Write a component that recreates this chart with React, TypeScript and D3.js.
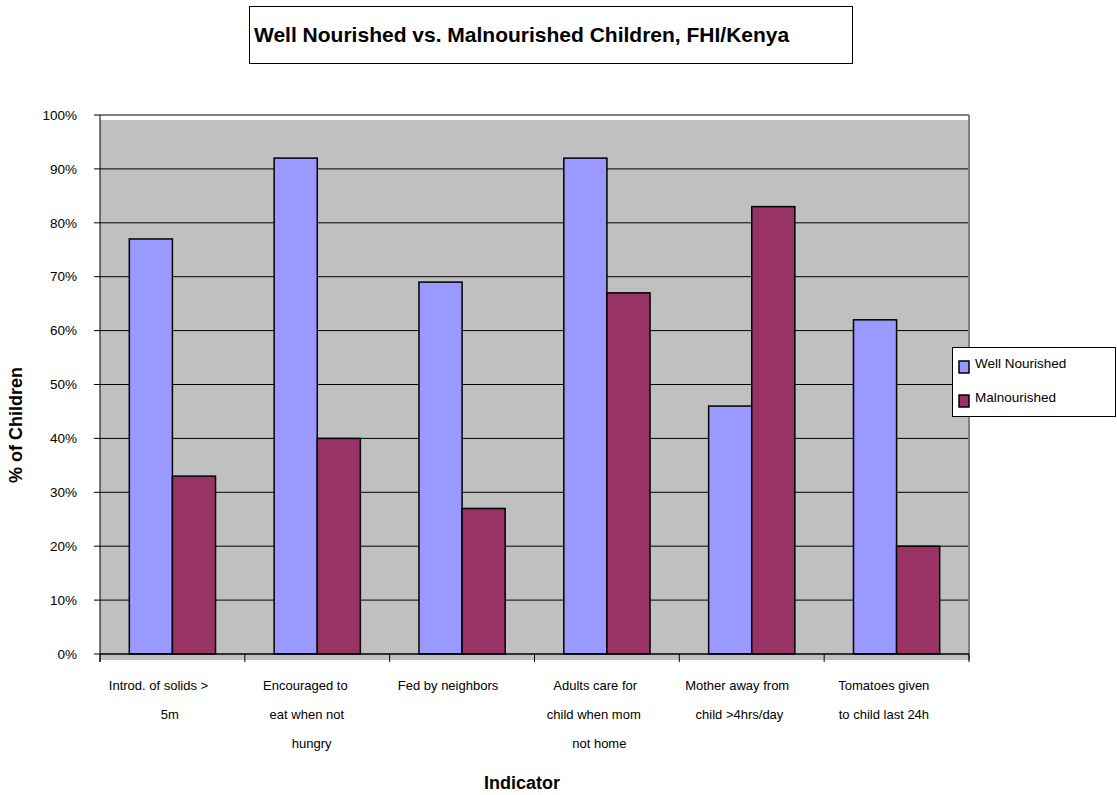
import React, { useEffect, useRef } from 'react';
import * as d3 from 'd3';

const categories = [
  ['Introd. of solids >', '5m'],
  ['Encouraged to', 'eat when not', 'hungry'],
  ['Fed by neighbors'],
  ['Adults care for', 'child when mom', 'not home'],
  ['Mother away from', 'child >4hrs/day'],
  ['Tomatoes given', 'to child last 24h'],
];
const seriesNames = ['Well Nourished', 'Malnourished'];
const wellNourished = [77, 92, 69, 92, 46, 62];
const malnourished = [33, 40, 27, 67, 83, 20];
const yTicks = [0, 10, 20, 30, 40, 50, 60, 70, 80, 90, 100];

const colors = ['#9999FF', '#993366'];
const FONT = 'Liberation Sans, Arial, sans-serif';

const App: React.FC = () => {
  const svgRef = useRef<SVGSVGElement>(null);

  useEffect(() => {
    if (!svgRef.current) return;
    const svg = d3.select(svgRef.current);
    svg.selectAll('*').remove();

    const left = 100, right = 969, top = 115, bottom = 654;

    const x = d3.scaleBand<number>()
      .domain(categories.map((_, i) => i))
      .range([left, right]);
    const inner = d3.scaleBand<number>()
      .domain([0, 1])
      .range([0, x.bandwidth()])
      .paddingOuter(0.68)
      .paddingInner(0);
    const y = d3.scaleLinear().domain([0, 100]).range([bottom, top]);

    // plot area (slightly offset floor, like the original)
    svg.append('rect')
      .attr('x', left).attr('y', top + 5)
      .attr('width', right - left).attr('height', bottom + 6 - top - 5)
      .attr('fill', '#C0C0C0');

    // gridlines
    svg.selectAll('.grid')
      .data(yTicks.filter(t => t > 0))
      .enter().append('line')
      .attr('x1', left).attr('x2', right)
      .attr('y1', d => y(d)).attr('y2', d => y(d))
      .attr('stroke', d => (d === 100 ? '#808080' : '#000'))
      .attr('stroke-width', d => (d === 100 ? 2 : 1));

    // right border
    svg.append('line')
      .attr('x1', right).attr('x2', right)
      .attr('y1', top).attr('y2', bottom + 6)
      .attr('stroke', '#808080').attr('stroke-width', 2);

    // bars
    const data = [wellNourished, malnourished];
    data.forEach((vals, s) => {
      svg.selectAll(`.bar${s}`)
        .data(vals)
        .enter().append('rect')
        .attr('x', (_, i) => (x(i) as number) + (inner(s) as number))
        .attr('y', d => y(d))
        .attr('width', inner.bandwidth())
        .attr('height', d => bottom - y(d))
        .attr('fill', colors[s])
        .attr('stroke', '#000')
        .attr('stroke-width', 1.5);
    });

    // axes
    svg.append('line')
      .attr('x1', left).attr('x2', left)
      .attr('y1', top).attr('y2', bottom + 8)
      .attr('stroke', '#000');
    svg.append('line')
      .attr('x1', left).attr('x2', right)
      .attr('y1', bottom).attr('y2', bottom)
      .attr('stroke', '#000').attr('stroke-width', 1.5);

    svg.selectAll('.ytick')
      .data(yTicks)
      .enter().append('line')
      .attr('x1', left - 6).attr('x2', left)
      .attr('y1', d => y(d)).attr('y2', d => y(d))
      .attr('stroke', '#000');

    svg.selectAll('.ylab')
      .data(yTicks)
      .enter().append('text')
      .attr('x', 77)
      .attr('y', d => y(d))
      .attr('dy', '0.35em')
      .attr('text-anchor', 'end')
      .attr('font-family', FONT)
      .attr('font-size', 13.5)
      .attr('fill', '#000')
      .text(d => `${d}%`);

    const bounds = categories.map((_, i) => x(i) as number).concat([right]);
    svg.selectAll('.xtick')
      .data(bounds)
      .enter().append('line')
      .attr('x1', d => d).attr('x2', d => d)
      .attr('y1', bottom).attr('y2', bottom + 8)
      .attr('stroke', '#000');

    // category labels (Excel-like wrapped, slightly left-shifted)
    categories.forEach((lines, i) => {
      const cx = (x(i) as number) + x.bandwidth() / 2;
      lines.forEach((line, j) => {
        const t = svg.append('text')
          .attr('y', 685 + j * 29)
          .attr('dy', '0.35em')
          .attr('font-family', FONT)
          .attr('font-size', 13)
          .attr('fill', '#000')
          .text(line);
        const w = (t.node() as SVGTextElement).getComputedTextLength();
        t.attr('x', cx - 0.64 * w);
      });
    });

    // axis titles
    svg.append('text')
      .attr('x', 522).attr('y', 783)
      .attr('dy', '0.35em')
      .attr('text-anchor', 'middle')
      .attr('font-family', FONT)
      .attr('font-size', 18)
      .attr('font-weight', 'bold')
      .text('Indicator');

    svg.append('text')
      .attr('transform', 'translate(16,425) rotate(-90)')
      .attr('dy', '0.35em')
      .attr('text-anchor', 'middle')
      .attr('font-family', FONT)
      .attr('font-size', 18)
      .attr('font-weight', 'bold')
      .text('% of Children');

    // title box
    svg.append('rect')
      .attr('x', 249.5).attr('y', 6.5)
      .attr('width', 603).attr('height', 57)
      .attr('fill', '#fff').attr('stroke', '#000');
    svg.append('text')
      .attr('x', 254).attr('y', 35)
      .attr('dy', '0.35em')
      .attr('font-family', FONT)
      .attr('font-size', 21)
      .attr('font-weight', 'bold')
      .text('Well Nourished vs. Malnourished Children, FHI/Kenya');

    // legend
    const lg = svg.append('g');
    lg.append('rect')
      .attr('x', 952.5).attr('y', 347.5)
      .attr('width', 163).attr('height', 69)
      .attr('fill', '#fff').attr('stroke', '#000');
    seriesNames.forEach((name, s) => {
      const cy = 367 + s * 34;
      lg.append('rect')
        .attr('x', 959).attr('y', cy - 6)
        .attr('width', 10).attr('height', 12)
        .attr('fill', colors[s])
        .attr('stroke', '#000').attr('stroke-width', 1.5);
      lg.append('text')
        .attr('x', 975).attr('y', cy - 4)
        .attr('dy', '0.35em')
        .attr('font-family', FONT)
        .attr('font-size', 13.5)
        .text(name);
    });
  }, []);

  return (
    <div style={{ position: 'absolute', left: 0, top: 0, width: 1117, height: 795, background: '#fff' }}>
      <svg ref={svgRef} width={1117} height={795} />
    </div>
  );
};

export default App;
